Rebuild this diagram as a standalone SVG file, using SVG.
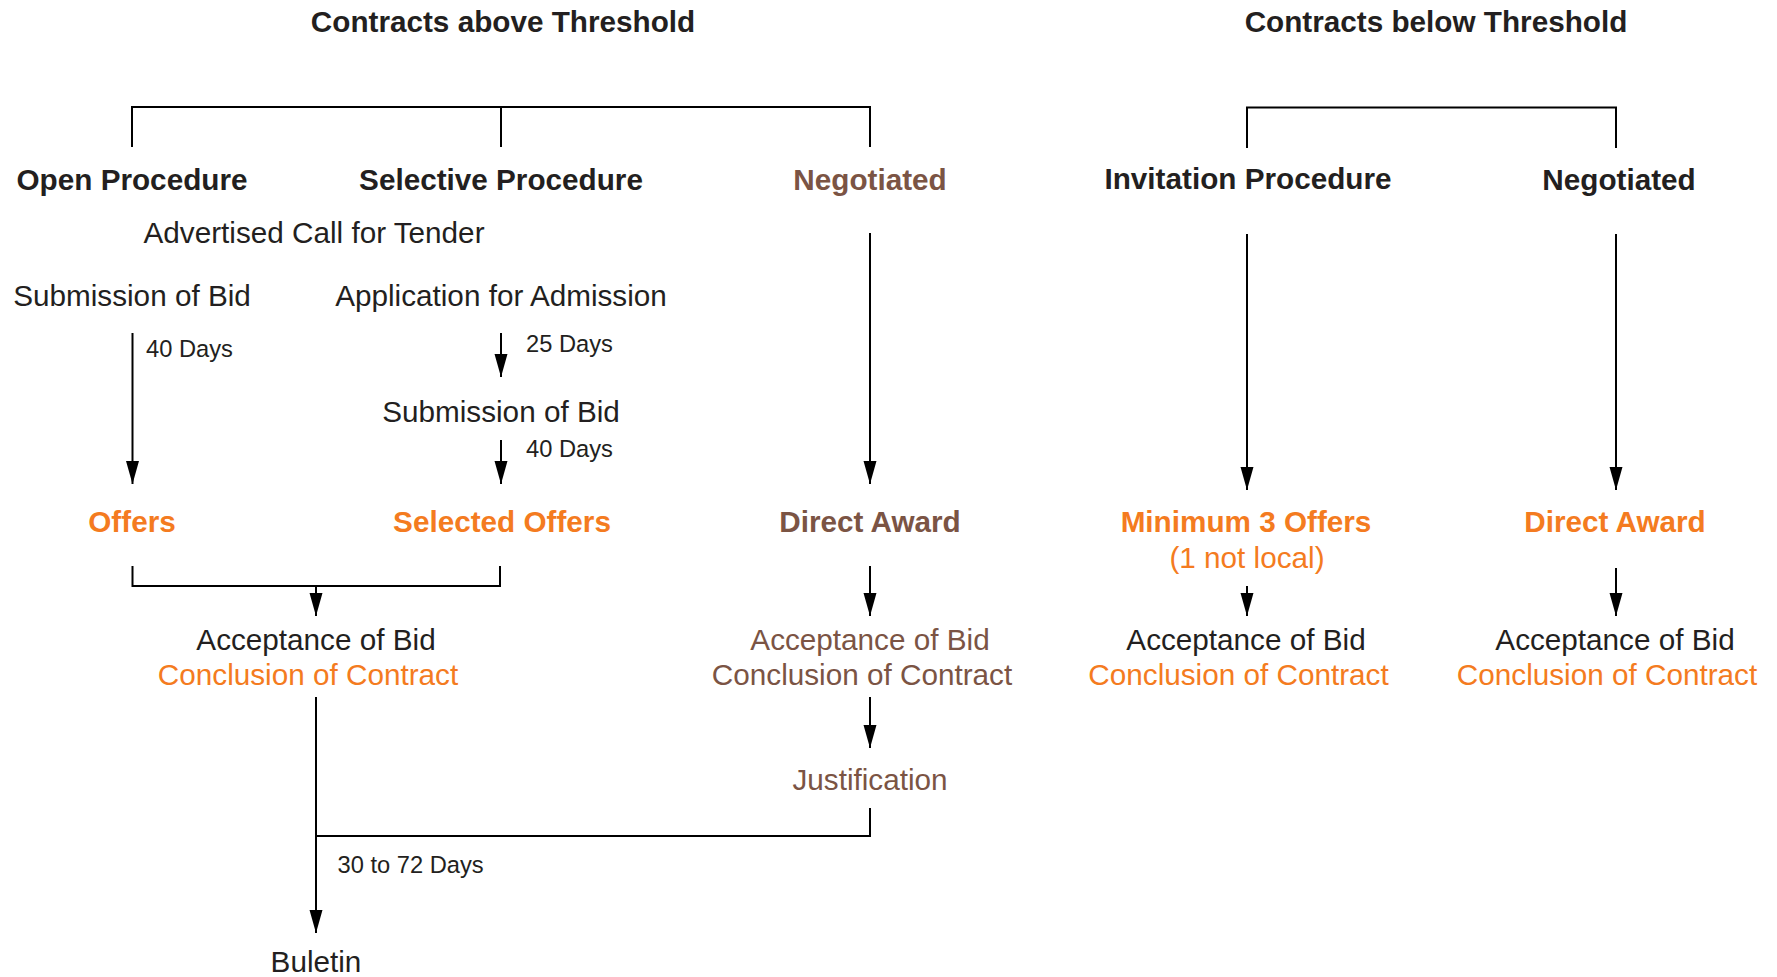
<svg xmlns="http://www.w3.org/2000/svg" width="1777" height="977" viewBox="0 0 1777 977">
<defs>
<style>
text{font-family:"Liberation Sans",Arial,sans-serif;font-size:29.7px;fill:#231F20;text-anchor:middle}
.b{font-weight:bold}
.o{fill:#F47B20}
.br{fill:#7B5444}
.s{font-size:23.7px;text-anchor:start}
.ln{fill:none;stroke:#000;stroke-width:2}
.ar{marker-end:url(#ah)}
</style>
<marker id="ah" markerUnits="userSpaceOnUse" markerWidth="24" markerHeight="14" refX="23" refY="6.5" orient="auto">
<path d="M0,0 L23,6.5 L0,13 z" fill="#000"/>
</marker>
</defs>
<rect width="1777" height="977" fill="#fff"/>
<g id="connectors">
<path class="ln" d="M132 147 V107 H870 V147 M501 107 V147"/>
<path class="ln ar" d="M132.5 333 V484"/>
<path class="ln ar" d="M501 333 V377"/>
<path class="ln ar" d="M501 440 V484"/>
<path class="ln ar" d="M870 233 V484"/>
<path class="ln" d="M132.5 566 V586 H500 V566"/>
<path class="ln ar" d="M316 586 V616"/>
<path class="ln ar" d="M870 566 V616"/>
<path class="ln ar" d="M316 697 V933"/>
<path class="ln ar" d="M870 697 V748"/>
<path class="ln" d="M870 808 V836 H316"/>
<path class="ln" d="M1247 148 V107.5 H1616 V148"/>
<path class="ln ar" d="M1247 234 V490"/>
<path class="ln ar" d="M1616 234 V490"/>
<path class="ln ar" d="M1247 586 V616"/>
<path class="ln ar" d="M1616 568 V616"/>
</g>
<g id="title-above"><text class="b" x="503" y="32">Contracts above Threshold</text></g>
<g id="title-below"><text class="b" x="1436" y="32">Contracts below Threshold</text></g>
<g id="open-procedure"><text class="b" x="132" y="190">Open Procedure</text></g>
<g id="selective-procedure"><text class="b" x="501" y="190">Selective Procedure</text></g>
<g id="negotiated-above"><text class="b br" x="870" y="190">Negotiated</text></g>
<g id="invitation-procedure"><text class="b" x="1248" y="189">Invitation Procedure</text></g>
<g id="negotiated-below"><text class="b" x="1619" y="190">Negotiated</text></g>
<g id="advertised-call"><text x="314" y="243">Advertised Call for Tender</text></g>
<g id="open-submission"><text x="132" y="306">Submission of Bid</text></g>
<g id="application"><text x="501" y="306">Application for Admission</text></g>
<g id="label-open-40"><text class="s" x="146" y="357">40 Days</text></g>
<g id="label-25"><text class="s" x="526" y="352">25 Days</text></g>
<g id="selective-submission"><text x="501" y="422">Submission of Bid</text></g>
<g id="label-sel-40"><text class="s" x="526" y="457">40 Days</text></g>
<g id="offers"><text class="b o" x="132" y="532">Offers</text></g>
<g id="selected-offers"><text class="b o" x="502" y="532">Selected Offers</text></g>
<g id="direct-award-above"><text class="b br" x="870" y="532">Direct Award</text></g>
<g id="minimum-offers"><text class="b o" x="1246" y="532">Minimum 3 Offers</text><text class="o" x="1247" y="568">(1 not local)</text></g>
<g id="direct-award-below"><text class="b o" x="1615" y="532">Direct Award</text></g>
<g id="acceptance-main"><text x="316" y="650">Acceptance of Bid</text><text class="o" x="308" y="685">Conclusion of Contract</text></g>
<g id="acceptance-negotiated"><text class="br" x="870" y="650">Acceptance of Bid</text><text class="br" x="862" y="685">Conclusion of Contract</text></g>
<g id="acceptance-invitation"><text x="1246" y="650">Acceptance of Bid</text><text class="o" x="1238.5" y="685">Conclusion of Contract</text></g>
<g id="acceptance-negotiated-below"><text x="1615" y="650">Acceptance of Bid</text><text class="o" x="1607" y="685">Conclusion of Contract</text></g>
<g id="justification"><text class="br" x="870" y="790">Justification</text></g>
<g id="label-30-72"><text class="s" x="337.5" y="873">30 to 72 Days</text></g>
<g id="buletin"><text x="316" y="972">Buletin</text></g>
</svg>
